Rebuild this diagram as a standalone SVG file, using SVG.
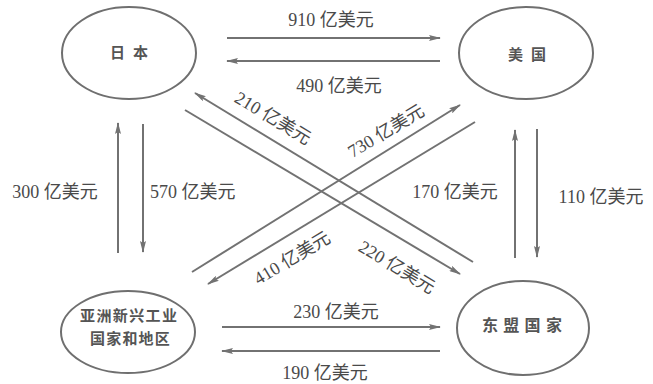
<svg xmlns="http://www.w3.org/2000/svg" width="653" height="384" viewBox="0 0 653 384">
<style>
.node{fill:none;stroke:#6f6f6f;stroke-width:2}
.nt{font-family:"Noto Sans CJK SC",sans-serif;font-weight:bold;fill:#555}
.edge{stroke:#727272;stroke-width:2;fill:none}
.arr{marker-end:url(#ah)}
.lbl{font-family:"Liberation Serif","Noto Sans CJK SC",serif;font-size:18px;fill:#4a4a4a}
</style>
<defs>
<marker id="ah" markerUnits="userSpaceOnUse" viewBox="0 0 12 6" refX="11" refY="3" markerWidth="12" markerHeight="6" orient="auto">
<path d="M0,0 L12,3 L0,6 L2,3 z" fill="#727272"/>
</marker>
</defs>
<rect width="653" height="384" fill="#fff"/>
<g id="node-japan">
<ellipse class="node" cx="129" cy="53" rx="67" ry="46"/>
<text class="nt" x="110" y="58" font-size="15" letter-spacing="8">日本</text>
</g>
<g id="node-usa">
<ellipse class="node" cx="526" cy="53" rx="67" ry="46"/>
<text class="nt" x="508" y="60" font-size="15" letter-spacing="8">美国</text>
</g>
<g id="node-nies">
<ellipse class="node" cx="128" cy="332" rx="67" ry="41"/>
<text class="nt" x="80" y="321" font-size="15" letter-spacing="1.4">亚洲新兴工业</text>
<text class="nt" x="90" y="344" font-size="15" letter-spacing="1.2">国家和地区</text>
</g>
<g id="node-asean">
<ellipse class="node" cx="523" cy="328" rx="66" ry="47"/>
<text class="nt" x="482" y="331" font-size="16" letter-spacing="5.3">东盟国家</text>
</g>
<g id="connectors">
<line class="edge arr" x1="227" y1="38" x2="440" y2="38"/>
<line class="edge arr" x1="440" y1="61" x2="227" y2="61"/>
<line class="edge arr" x1="118" y1="253" x2="118" y2="123"/>
<line class="edge arr" x1="143" y1="124" x2="143" y2="252"/>
<line class="edge arr" x1="515" y1="258" x2="515" y2="130"/>
<line class="edge arr" x1="537" y1="129" x2="537" y2="257"/>
<line class="edge arr" x1="222" y1="327" x2="440" y2="327"/>
<line class="edge arr" x1="440" y1="351" x2="222" y2="351"/>
<line class="edge arr" x1="473" y1="262" x2="195" y2="93"/>
<line class="edge arr" x1="185" y1="110" x2="460" y2="274"/>
<line class="edge arr" x1="192" y1="272" x2="460" y2="105"/>
<line class="edge arr" x1="475" y1="122" x2="208" y2="284"/>
</g>
<g id="labels">
<text class="lbl" x="331" y="26" text-anchor="middle">910 亿美元</text>
<text class="lbl" x="339" y="92" text-anchor="middle">490 亿美元</text>
<text class="lbl" x="55" y="198" text-anchor="middle">300 亿美元</text>
<text class="lbl" x="150" y="198">570 亿美元</text>
<text class="lbl" x="455" y="198" text-anchor="middle">170 亿美元</text>
<text class="lbl" x="601" y="203" text-anchor="middle">110 亿美元</text>
<text class="lbl" x="336" y="318" text-anchor="middle">230 亿美元</text>
<text class="lbl" x="325" y="379" text-anchor="middle">190 亿美元</text>
<text class="lbl" text-anchor="middle" transform="translate(273,118) rotate(31)" y="6">210 亿美元</text>
<text class="lbl" text-anchor="middle" transform="translate(386,131) rotate(-31)" y="6">730 亿美元</text>
<text class="lbl" text-anchor="middle" transform="translate(292,258) rotate(-31)" y="6">410 亿美元</text>
<text class="lbl" text-anchor="middle" transform="translate(397,267) rotate(31)" y="6">220 亿美元</text>
</g>
</svg>
